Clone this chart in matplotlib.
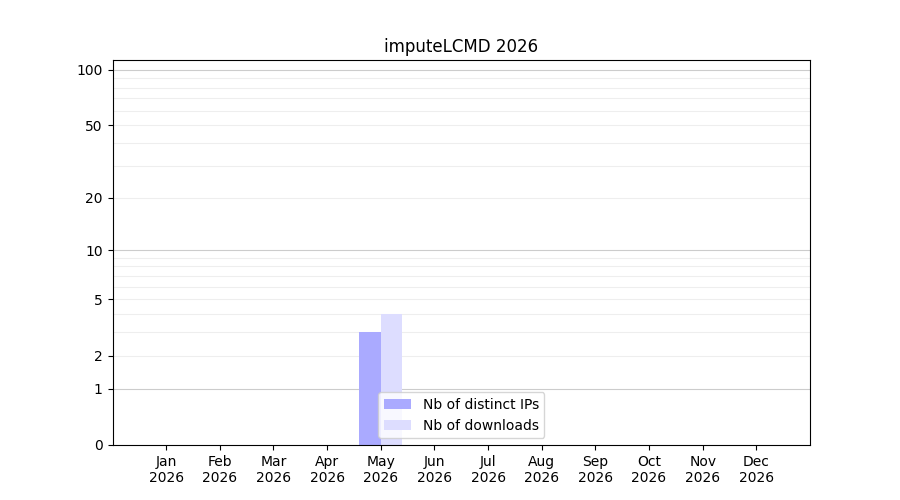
import numpy as np
import matplotlib
matplotlib.use("Agg")
import matplotlib.pyplot as plt

year = 2026
months = ["Jan", "Feb", "Mar", "Apr", "May", "Jun",
          "Jul", "Aug", "Sep", "Oct", "Nov", "Dec"]
distinct_ips = [0, 0, 0, 0, 3, 0, 0, 0, 0, 0, 0, 0]
downloads = [0, 0, 0, 0, 4, 0, 0, 0, 0, 0, 0, 0]
ytick_values = [0, 1, 2, 5, 10, 20, 50, 100]


def fwd(y):
    return np.log10(1 + np.clip(y, 0, None))


def inv(y):
    return 10 ** y - 1


fig, ax = plt.subplots(figsize=(9, 5), dpi=100)
fig.subplots_adjust(left=0.125, right=0.9, top=0.88, bottom=0.11)

x = np.arange(len(months))
ax.bar(x, distinct_ips, width=-0.4, align="edge", color="#aaaaff",
       label="Nb of distinct IPs")
ax.bar(x, downloads, width=0.4, align="edge", color="#ddddff",
       label="Nb of downloads")

ax.set_yscale("function", functions=(fwd, inv))
ax.set_ylim(0, 113)
ax.set_xlim(-1, 12)

# grid lines: major on decades, minor between
major_grid = [1, 10, 100]
minor_grid = [v for v in list(range(2, 10)) + list(range(20, 100, 10))]
for v in major_grid:
    ax.axhline(v, color="#cccccc", linewidth=0.8, zorder=0)
for v in minor_grid:
    ax.axhline(v, color="#eeeeee", linewidth=0.8, zorder=0)

ax.set_yticks(ytick_values)
ax.set_yticklabels([str(v) for v in ytick_values])
ax.yaxis.set_minor_locator(matplotlib.ticker.NullLocator())
ax.set_xticks(x)
ax.set_xticklabels([f"{m}\n{year}" for m in months])

ax.set_title(f"imputeLCMD {year}")
ax.legend(loc="lower center")

fig.savefig("out.png")
